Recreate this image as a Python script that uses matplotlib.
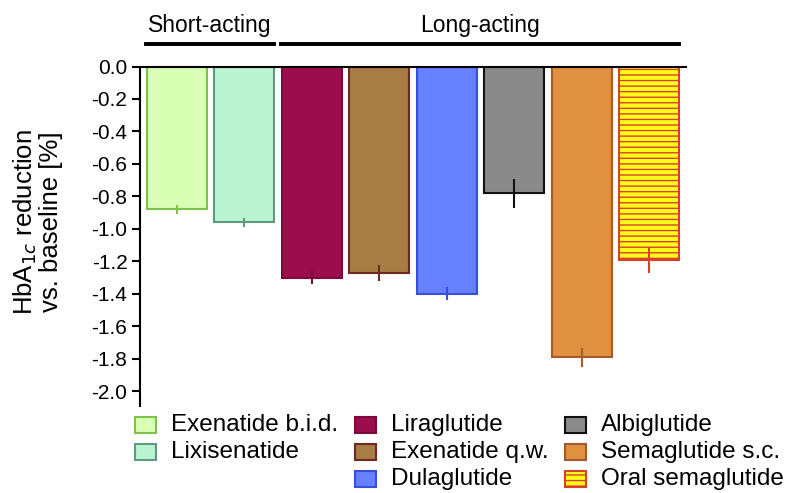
import matplotlib
matplotlib.use("Agg")
import matplotlib.pyplot as plt
from matplotlib.patches import Rectangle
from matplotlib.transforms import blended_transform_factory
import numpy as np

plt.rcParams['font.family'] = ['Liberation Sans', 'DejaVu Sans']

drugs = ["Exenatide b.i.d.", "Lixisenatide", "Liraglutide", "Exenatide q.w.",
         "Dulaglutide", "Albiglutide", "Semaglutide s.c.", "Oral semaglutide"]
values = [-0.88, -0.96, -1.30, -1.27, -1.40, -0.78, -1.79, -1.19]
errors = [0.03, 0.03, 0.04, 0.05, 0.04, 0.09, 0.06, 0.08]
face_colors = ["#d8ffb4", "#b9f3d2", "#9c0d4d", "#a87c45", "#6680ff", "#8a8a8a", "#df913f", "#ffff1a"]
edge_colors = ["#7cc24b", "#5e9a7c", "#7a0a3a", "#6e2a1c", "#3a4fd9", "#111111", "#a65a2a", "#d9402a"]
hatches = [None, None, None, None, None, None, None, "---"]
groups = [("Short-acting", 0, 1), ("Long-acting", 2, 7)]
legend_columns = [[0, 1], [2, 3, 4], [5, 6, 7]]
yticks = [0.0, -0.2, -0.4, -0.6, -0.8, -1.0, -1.2, -1.4, -1.6, -1.8, -2.0]

W, H = 790, 493
fig = plt.figure(figsize=(W / 100, H / 100), dpi=100)
ax = fig.add_axes([140 / W, 1 - 406 / H, 546 / W, 339.5 / H])

x = np.arange(len(drugs))
width = 0.89
for i in range(len(drugs)):
    ax.bar(x[i], values[i], width=width, color=face_colors[i], edgecolor=edge_colors[i],
           linewidth=1.5, hatch=hatches[i], zorder=2)
    ax.errorbar(x[i], values[i], yerr=errors[i], fmt='none', ecolor=edge_colors[i],
                elinewidth=1.5, capsize=0, zorder=3)

ax.set_xlim(-0.55, 7.55)
ax.set_ylim(-2.09, 0)
ax.set_yticks(yticks)
ax.set_yticklabels([f"{v:.1f}" for v in yticks], fontsize=15)
ax.tick_params(axis='y', direction='out', length=6, width=1.5, pad=3)
ax.xaxis.tick_top()
ax.set_xticks(x)
ax.set_xticklabels([])
ax.tick_params(axis='x', direction='in', length=6, width=1.5, top=True, bottom=False)
for s in ['right', 'bottom']:
    ax.spines[s].set_visible(False)
for s in ['left', 'top']:
    ax.spines[s].set_linewidth(1.5)
    ax.spines[s].set_zorder(4)

fig.text(37 / W, 1 - 222 / H, "HbA$_{1c}$ reduction\nvs. baseline [%]", rotation=90,
         ha='center', va='center', multialignment='center', fontsize=18.5, linespacing=1.0)

# group brackets (data x, pixel y)
tr = blended_transform_factory(ax.transData, fig.transFigure)
for name, a, b in groups:
    x0 = x[a] - width / 2 - 0.02
    x1 = x[b] + width / 2
    ax.plot([x0, x1], [1 - 43.5 / H] * 2, color='black', lw=2.8, transform=tr, clip_on=False)
    ax.text((x0 + x1) / 2, 1 - 32 / H, name, transform=tr, ha='center', va='baseline',
            fontsize=16.5)

# legend drawn manually in pixel positions
col_patch_x = [135, 355, 565]
row_baseline = [431, 458, 485]
pw, ph = 21, 16
for c, members in enumerate(legend_columns):
    for r, k in enumerate(members):
        px = col_patch_x[c]
        ytop = row_baseline[r] - 14
        rect = Rectangle((px / W, 1 - (ytop + ph) / H), pw / W, ph / H,
                         transform=fig.transFigure, facecolor=face_colors[k],
                         edgecolor=edge_colors[k], linewidth=1.5, hatch=hatches[k])
        fig.patches.append(rect)
        fig.text((px + pw + 15) / W, 1 - row_baseline[r] / H, drugs[k], ha='left',
                 va='baseline', fontsize=17.5)

fig.savefig("out.png", dpi=100)
